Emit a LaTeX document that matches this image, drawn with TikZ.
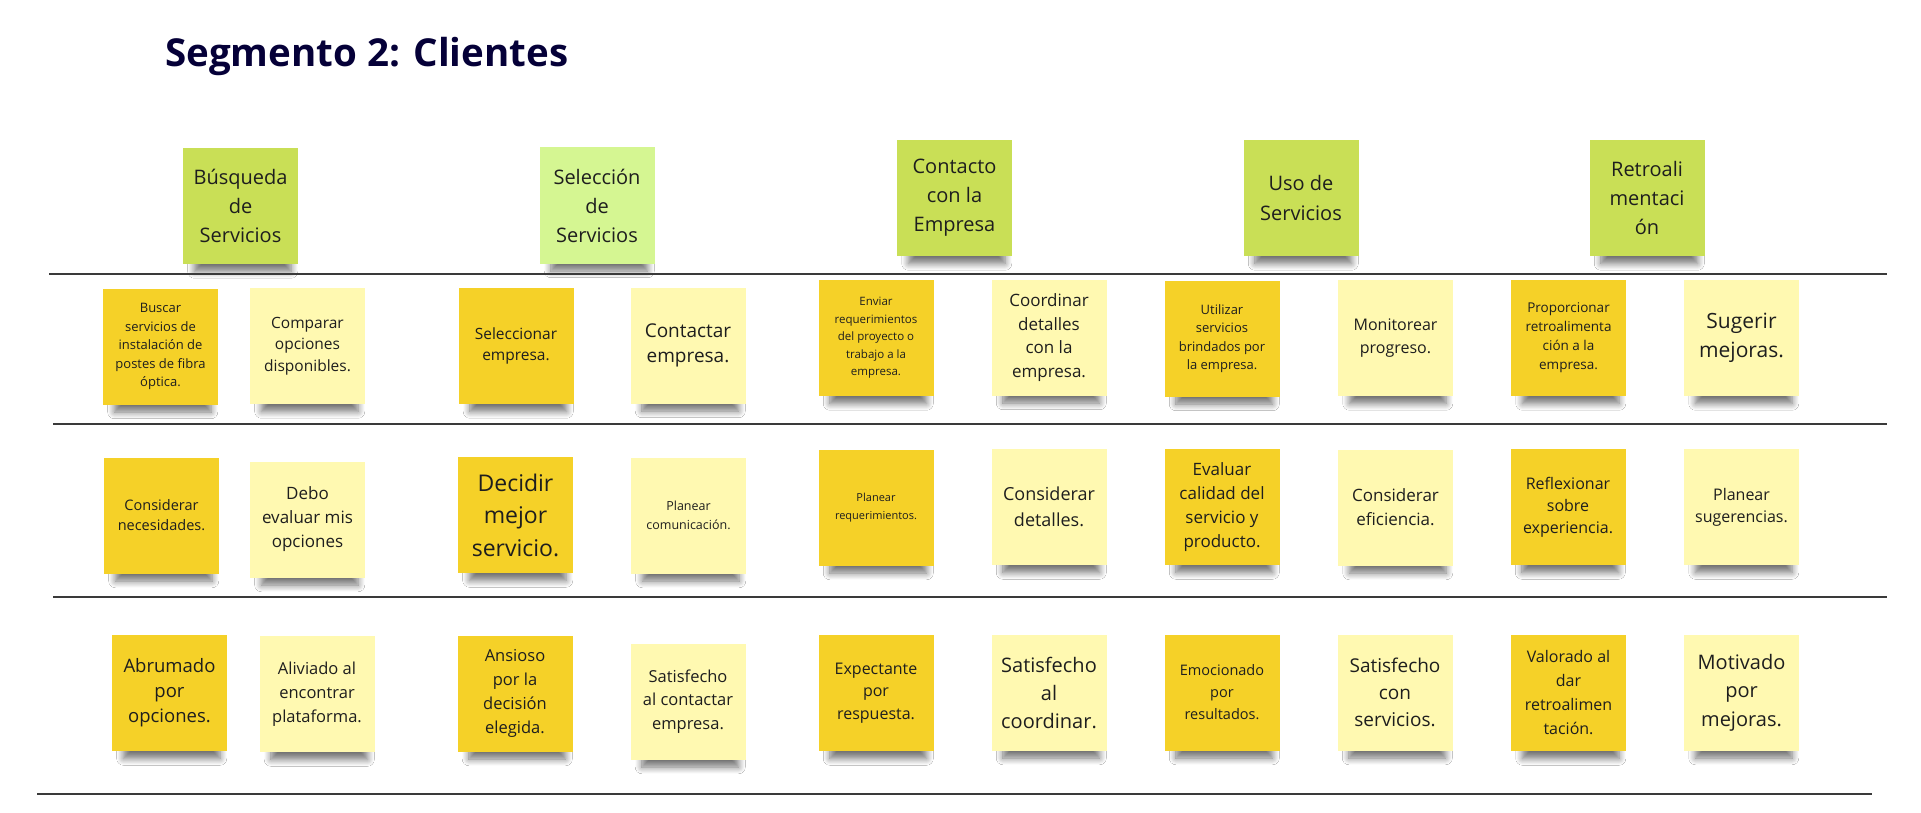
\documentclass[tikz,border=0pt]{standalone}
\usepackage{fontspec}
\setmainfont{Open Sans}
\usetikzlibrary{shadows.blur}
\definecolor{tinta}{HTML}{050038}
\definecolor{verde}{HTML}{C9DF56}
\definecolor{verdeclaro}{HTML}{D5F692}
\definecolor{amarillo}{HTML}{F5D128}
\definecolor{amarilloclaro}{HTML}{FFF9B1}
\definecolor{texto}{HTML}{1E1E1E}
\definecolor{raya}{HTML}{3A3A3A}
\newcommand{\sz}[2]{\fontsize{#1}{#2}\selectfont}

\begin{document}
\begin{tikzpicture}[x=1pt,y=-1pt,
    nota/.style={minimum width=115pt,minimum height=116pt,inner sep=0pt,align=center,text=texto,
      blur shadow={shadow scale=0.84,shadow yshift=-20pt,shadow opacity=55,shadow blur radius=8pt,shadow blur steps=8}},
    etapa/.style={nota,fill=verde,font=\sz{20}{29}},
    oscura/.style={nota,fill=amarillo},
    clara/.style={nota,fill=amarilloclaro},
    raya/.style={draw=raya,line width=2.5pt}]
      \fill[white] (0,0) rectangle (1921,813);
      \useasboundingbox (0,0) rectangle (1921,813);
      \node[anchor=base west,inner sep=0pt,text=tinta,font=\bfseries\sz{38.5}{47}] (titulo) at (165,67) {Segmento 2: Clientes};

      % etapas
      \node[etapa] (e1) at (240.5,206) {Búsqueda\\de\\Servicios};
      \node[etapa,fill=verdeclaro] (e2) at (597,205.5) {Selección\\de\\Servicios};
      \node[etapa] (e3) at (954.5,198) {Contacto\\con la\\Empresa};
      \node[etapa] (e4) at (1301,198) {Uso de\\Servicios};
      \node[etapa] (e5) at (1647,198) {Retroali\\mentaci\\ón};

      \draw[raya] (49,274) -- (1887,274);
      \draw[raya] (53,424) -- (1887,424);
      \draw[raya] (53,597) -- (1887,597);
      \draw[raya] (37,794) -- (1872,794);

      % fila 1: acciones
      \node[oscura,font=\sz{13}{18.5}] (a1) at (160.5,346.5) {Buscar\\servicios de\\instalación de\\postes de fibra\\óptica.};
      \node[clara,font=\sz{15.5}{21.5}] (a2) at (307.5,346) {Comparar\\opciones\\disponibles.};
      \node[oscura,font=\sz{15.5}{21.5}] (a3) at (516,346) {Seleccionar\\empresa.};
      \node[clara,font=\sz{19}{25}] (a4) at (688,345.5) {Contactar\\empresa.};
      \node[oscura,font=\sz{11.5}{17.5}] (a5) at (876,338) {Enviar\\requerimientos\\del proyecto o\\trabajo a la\\empresa.};
      \node[clara,font=\sz{17}{23.5}] (a6) at (1049,337.5) {Coordinar\\detalles\\con la\\empresa.};
      \node[oscura,font=\sz{13}{18.5}] (a7) at (1222,338.5) {Utilizar\\servicios\\brindados por\\la empresa.};
      \node[clara,font=\sz{16}{23}] (a8) at (1395.5,338) {Monitorear\\progreso.};
      \node[oscura,font=\sz{13.5}{19}] (a9) at (1568.5,338) {Proporcionar\\retroalimenta\\ción a la\\empresa.};
      \node[clara,font=\sz{21}{29}] (a10) at (1741.5,338) {Sugerir\\mejoras.};

      % fila 2: pensamientos
      \node[oscura,font=\sz{14.5}{20}] (p1) at (161.5,515.5) {Considerar\\necesidades.};
      \node[clara,font=\sz{17}{24}] (p2) at (307.5,519.5) {Debo\\evaluar mis\\opciones};
      \node[oscura,font=\sz{23}{32.5}] (p3) at (515.5,515) {Decidir\\mejor\\servicio.};
      \node[clara,font=\sz{12.5}{19}] (p4) at (688.5,515.5) {Planear\\comunicación.};
      \node[oscura,font=\sz{11}{18}] (p5) at (876,507.5) {Planear\\requerimientos.};
      \node[clara,font=\sz{18}{26}] (p6) at (1049,507) {Considerar\\detalles.};
      \node[oscura,font=\sz{17}{24}] (p7) at (1222,507) {Evaluar\\calidad del\\servicio y\\producto.};
      \node[clara,font=\sz{17}{24}] (p8) at (1395.5,507.5) {Considerar\\eficiencia.};
      \node[oscura,font=\sz{16}{22}] (p9) at (1568,507) {Reflexionar\\sobre\\experiencia.};
      \node[clara,font=\sz{16}{22}] (p10) at (1741.5,507) {Planear\\sugerencias.};

      % fila 3: emociones
      \node[oscura,font=\sz{18.5}{25}] (m1) at (169.5,693) {Abrumado\\por\\opciones.};
      \node[clara,font=\sz{16.5}{24}] (m2) at (317,694) {Aliviado al\\encontrar\\plataforma.};
      \node[oscura,font=\sz{16.5}{24}] (m3) at (515,693.5) {Ansioso\\por la\\decisión\\elegida.};
      \node[clara,font=\sz{16.5}{23.5}] (m4) at (688,701.5) {Satisfecho\\al contactar\\empresa.};
      \node[oscura,font=\sz{16}{22.5}] (m5) at (876,693) {Expectante\\por\\respuesta.};
      \node[clara,font=\sz{20}{28}] (m6) at (1049,692.5) {Satisfecho\\al\\coordinar.};
      \node[oscura,font=\sz{14.5}{22}] (m7) at (1222,692.5) {Emocionado\\por\\resultados.};
      \node[clara,font=\sz{19}{27}] (m8) at (1395,692.5) {Satisfecho\\con\\servicios.};
      \node[oscura,font=\sz{16}{24}] (m9) at (1568.5,693) {Valorado al\\dar\\retroalimen\\tación.};
      \node[clara,font=\sz{20}{28.5}] (m10) at (1741.5,692.5) {Motivado\\por\\mejoras.};
    \end{tikzpicture}
\end{document}
